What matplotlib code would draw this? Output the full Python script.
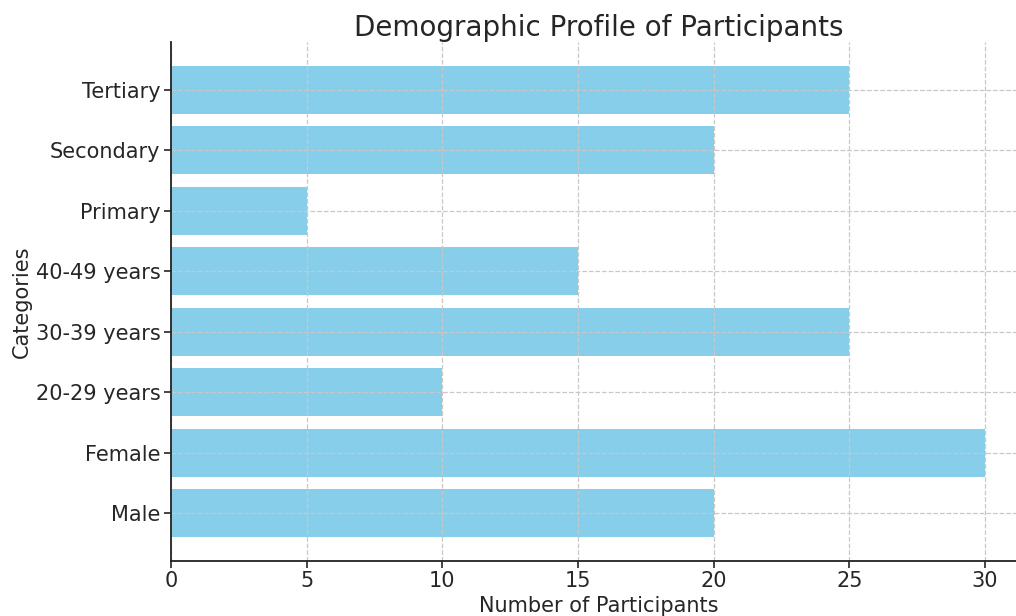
import matplotlib
matplotlib.use("Agg")
import matplotlib.pyplot as plt

categories = ["Male", "Female", "20-29 years", "30-39 years", "40-49 years",
              "Primary", "Secondary", "Tertiary"]
participants = [20, 30, 10, 25, 15, 5, 20, 25]
x_ticks = [0, 5, 10, 15, 20, 25, 30]

plt.rcParams["font.family"] = "DejaVu Sans"
text_color = "#262626"

fig = plt.figure(figsize=(10.16, 6.16), dpi=100)
ax = fig.add_axes([0.1683, 0.0893, 0.8413, 0.8425])

ax.barh(categories, participants, color="skyblue", height=0.8, zorder=1)
ax.set_xticks(x_ticks)
ax.set_xlim(0, 31.5)

ax.grid(True, linestyle="--", color="#c8c8c8", linewidth=0.9)
for gl in ax.get_xgridlines() + ax.get_ygridlines():
    gl.set_zorder(2)

ax.spines["top"].set_visible(False)
ax.spines["right"].set_visible(False)
for s in ("left", "bottom"):
    ax.spines[s].set_linewidth(1.3)
    ax.spines[s].set_color("#222222")
    ax.spines[s].set_zorder(3)

ax.tick_params(axis="both", labelsize=15, colors=text_color, length=5, width=1.2, pad=2.5)
ax.set_xlabel("Number of Participants", fontsize=15, color=text_color, labelpad=3)
ax.set_ylabel("Categories", fontsize=15, color=text_color, labelpad=3)
ax.set_title("Demographic Profile of Participants", fontsize=20, color=text_color, pad=4)

fig.savefig("out.png", dpi=100)
